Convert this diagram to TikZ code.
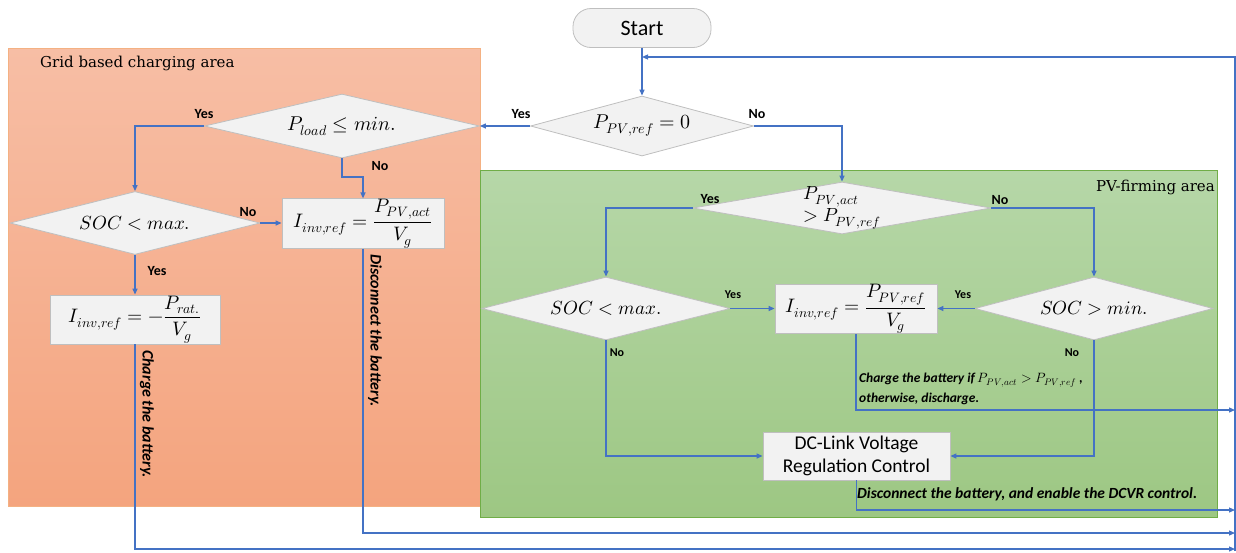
\documentclass[tikz,border=0pt]{standalone}
\usepackage{amsmath}
\usepackage{fontspec}
\usepackage{unicode-math}
\setsansfont{Carlito}
\newfontfamily\areafont{DejaVu Serif}
\usetikzlibrary{shapes.geometric,arrows.meta}
\definecolor{lineblue}{HTML}{4472C4}
\definecolor{boxgray}{HTML}{F2F2F2}
\definecolor{boxedge}{HTML}{BFBFBF}
\definecolor{orTop}{RGB}{247,190,165}
\definecolor{orBot}{RGB}{244,164,126}
\definecolor{orEdge}{RGB}{244,177,131}
\definecolor{grTop}{RGB}{182,215,168}
\definecolor{grBot}{RGB}{157,199,131}
\definecolor{grEdge}{RGB}{112,173,71}
\begin{document}
\begin{tikzpicture}[x=1pt,y=-1pt,
  arr/.style={draw=lineblue, line width=1.2pt, -{Triangle[length=6pt,width=5pt]}},
  dia/.style={diamond, draw=boxedge, fill=boxgray, inner sep=0pt, line width=0.8pt},
  procbox/.style={rectangle, draw=boxedge, fill=boxgray, inner sep=0pt, line width=0.8pt},
  yn/.style={font=\sffamily\bfseries\fontsize{14}{16}\selectfont, inner sep=0pt},
  ynsmall/.style={font=\sffamily\bfseries\fontsize{12}{14}\selectfont, inner sep=0pt},
  mathtxt/.style={font=\fontsize{20}{22}\selectfont, inner sep=0pt},
  mathsoc/.style={font=\fontsize{19}{22}\selectfont, inner sep=0pt},
  note/.style={font=\sffamily\bfseries\itshape\fontsize{16}{18}\selectfont, inner sep=0pt},
  notewide/.style={font=\sffamily\bfseries\itshape\fontsize{15.5}{18}\selectfont, inner sep=0pt},
  notesmall/.style={font=\sffamily\bfseries\itshape\fontsize{13.5}{16}\selectfont, inner sep=0pt},
  area/.style={rectangle, inner sep=0pt, line width=0.8pt},
  arealbl/.style={font=\areafont\fontsize{15}{18}\selectfont, inner sep=0pt}
]
\useasboundingbox (0,0) rectangle (1236,552);
% areas
\node[area, draw=orEdge, top color=orTop, bottom color=orBot, minimum width=472pt, minimum height=458pt] (grid) at (244,277) {};
\node[area, draw=grEdge, top color=grTop, bottom color=grBot, minimum width=737pt, minimum height=347pt] (pvarea) at (848.5,343.5) {};
\node[arealbl, anchor=west] (gridlbl) at (40,63) {Grid based charging area};
\node[arealbl, anchor=east] (pvlbl) at (1215,187) {PV-firming area};
% start
\node[rectangle, rounded corners=18pt, draw=boxedge, fill=boxgray, line width=0.8pt, minimum width=138pt, minimum height=39pt, font=\sffamily\fontsize{22}{26}\selectfont] (start) at (642,28) {Start};
% diamonds
\node[dia, minimum width=223pt, minimum height=60pt, label={[mathtxt]center:$P_{PV,ref}=0$}] (d1) at (642,126) {};
\node[dia, minimum width=275pt, minimum height=64pt, label={[mathtxt]center:$P_{load}\leq min.$}] (d2) at (342,126) {};
\node[dia, minimum width=250pt, minimum height=63pt, label={[mathsoc]center:$SOC<max.$}] (soc1) at (135,223) {};
\node[dia, minimum width=298pt, minimum height=52pt, label={[mathsoc, align=left, font=\fontsize{19}{22}\selectfont]center:$P_{PV,act}$\\$>P_{PV,ref}$}] (d3) at (842,208) {};
\node[dia, minimum width=248pt, minimum height=63pt, label={[mathsoc]center:$SOC<max.$}] (soc2) at (606,308.5) {};
\node[dia, minimum width=238pt, minimum height=63pt, label={[mathsoc]center:$SOC>min.$}] (soc3) at (1094,308.5) {};
% boxes
\node[procbox, minimum width=162pt, minimum height=49pt, font=\fontsize{19.5}{22}\selectfont] (box2) at (363,223.5) {$I_{inv,ref}=\dfrac{P_{PV,act}}{V_g}$};
\node[procbox, minimum width=170pt, minimum height=49pt, font=\fontsize{19.5}{22}\selectfont] (box1) at (135,319.5) {$I_{inv,ref}=-\dfrac{P_{rat.}}{V_g}$};
\node[procbox, minimum width=162pt, minimum height=48pt, font=\fontsize{19.5}{22}\selectfont] (box3) at (856,309) {$I_{inv,ref}=\dfrac{P_{PV,ref}}{V_g}$};
\node[procbox, minimum width=187pt, minimum height=48pt, align=center, font=\sffamily\fontsize{19.5}{23}\selectfont] (dcvr) at (856.5,456) {DC-Link Voltage\\Regulation Control};
% coordinates on the right return line
\coordinate (rtop) at (1235,57);
\coordinate (rbot) at (1235,551);
\coordinate (r1) at (1235,410);
\coordinate (r2) at (1235,510);
\coordinate (r3) at (1235,533);
\coordinate (r4) at (1235,549);
\coordinate (k1) at (342,177);
% connectors
\draw[arr] (start.south) -- (d1.north);
\draw[arr] (rbot) -- (rtop) -- (start.south |- rtop);
\draw[arr] (d1.west) -- (d2.east);
\draw[arr] (d1.east) -| (d3.north);
\draw[arr] (d2.west) -| (soc1.north);
\draw[arr] (d2.south) -- (k1) -| (box2.north);
\draw[arr] (soc1.east) -- (box2.west |- soc1.east);
\draw[arr] (soc1.south) -- (box1.north);
\draw[arr] (box1.south) |- (r4);
\draw[arr] (box2.south) |- (r3);
\draw[arr] (d3.west) -| (soc2.north);
\draw[arr] (d3.east) -| (soc3.north);
\draw[arr] (soc2.east) -- (box3.west |- soc2.east);
\draw[arr] (soc3.west) -- (box3.east |- soc3.west);
\draw[arr] (soc2.south) |- (dcvr.west);
\draw[arr] (soc3.south) |- (dcvr.east);
\draw[arr] (box3.south) |- (r1);
\draw[arr] (dcvr.south) |- (r2);
% yes/no labels
\node[yn] (y1) at (521,114) {Yes};
\node[yn] (n1) at (757,114) {No};
\node[yn] (y2) at (204,114) {Yes};
\node[yn] (n2) at (380,166) {No};
\node[yn] (n3) at (248,212) {No};
\node[yn] (y3) at (157,271) {Yes};
\node[yn] (y4) at (710,199) {Yes};
\node[yn] (n4) at (1000,200) {No};
\node[ynsmall] (y5) at (733,295) {Yes};
\node[ynsmall] (n5) at (617,353) {No};
\node[ynsmall] (y6) at (963,295) {Yes};
\node[ynsmall] (n6) at (1072,353) {No};
% notes
\node[note, rotate=-90, anchor=west] (c1) at (147,350) {Charge the battery.};
\node[note, rotate=-90, anchor=west] (c2) at (375,254) {Disconnect the battery.};
\node[notesmall, anchor=west] (c3) at (859,380) {Charge the battery if $P_{PV,act}>P_{PV,ref}$ ,};
\node[notesmall, anchor=west] (c4) at (859,399) {otherwise, discharge.};
\node[notewide, anchor=west] (c5) at (857,494) {Disconnect the battery, and enable the DCVR control.};
\end{tikzpicture}
\end{document}
